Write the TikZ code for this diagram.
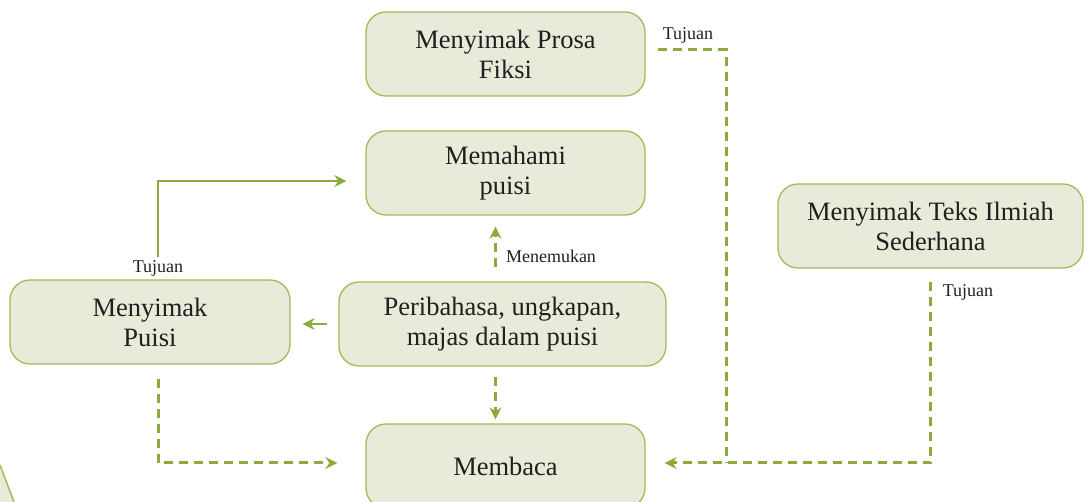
\documentclass[tikz,border=0pt]{standalone}
\usepackage{fontspec}
\setmainfont{Liberation Serif}
\usetikzlibrary{arrows.meta}
\definecolor{kgreen}{HTML}{8DAA3C}
\definecolor{kfill}{HTML}{E8EBD9}
\definecolor{kborder}{HTML}{A0BC55}
\definecolor{ktext}{HTML}{231F20}

\begin{document}
\begin{tikzpicture}[x=1pt,y=-1pt,
  box/.style={draw=kborder,fill=kfill,line width=1.3pt,rounded corners=20pt,minimum width=279pt,minimum height=84pt,align=center,inner sep=0pt,text=ktext,font=\fontsize{26.5}{30}\selectfont},
  lbl/.style={font=\fontsize{18}{20}\selectfont,inner sep=1pt,text=ktext},
  arr/.style={-{Stealth[length=12pt,width=12pt]},line width=1.5pt,kgreen},
  darr/.style={arr,line width=3pt,dash pattern=on 9pt off 6pt}
]
\useasboundingbox (0,0) rectangle (1088,502);

% corner decoration
\fill[kfill] (0,465) -- (14,502) -- (0,502) -- cycle;
\draw[kborder,line width=1.5pt] (0,465) -- (14,502);

% Boxes
\node[box] (prosa) at (505.5,54) {Menyimak Prosa\\Fiksi};
\node[box] (paham) at (505.5,173) {Memahami\\puisi};
\node[box,minimum width=305pt] (ilmiah) at (930.5,226) {Menyimak Teks Ilmiah\\Sederhana};
\node[box,minimum width=280pt] (puisi) at (150,322) {Menyimak\\Puisi};
\node[box,minimum width=327pt] (peri) at (502.5,324) {Peribahasa, ungkapan,\\majas dalam puisi};
\node[box] (baca) at (505.5,466) {Membaca};

% Labels
\node[lbl] (tpuisi) at (158,268) {Tujuan};
\node[lbl] (tprosa) at (688,35) {Tujuan};
\node[lbl] (tilmiah) at (968,292) {Tujuan};
\node[lbl] (temu) at (551,256) {Menemukan};

\coordinate (pstart) at (158,257);
\coordinate (join) at (726,463);

% Connectors
\draw[arr,shorten >=19pt] (pstart) |- ([yshift=-8pt]paham.west);
\draw[arr,shorten <=11pt,shorten >=12pt] (peri.west) -- (peri.west -| puisi.east);
\draw[darr,shorten <=14pt,shorten >=11pt] ([xshift=-7pt]peri.north) -- ([xshift=-7pt]peri.north |- paham.south);
\draw[darr,shorten <=10pt,shorten >=4pt] ([xshift=-7pt]peri.south) -- ([xshift=-7pt]peri.south |- baca.north);
\draw[darr,shorten <=14pt,shorten >=28pt] ([xshift=8pt]puisi.south) |- ([yshift=3pt]baca.west);
\draw[darr,-,shorten <=12pt] ([yshift=4pt]prosa.east) -| (join);
\draw[darr,shorten <=13pt,shorten >=19pt] (ilmiah.south) |- ([yshift=3pt]baca.east);
\end{tikzpicture}
\end{document}
